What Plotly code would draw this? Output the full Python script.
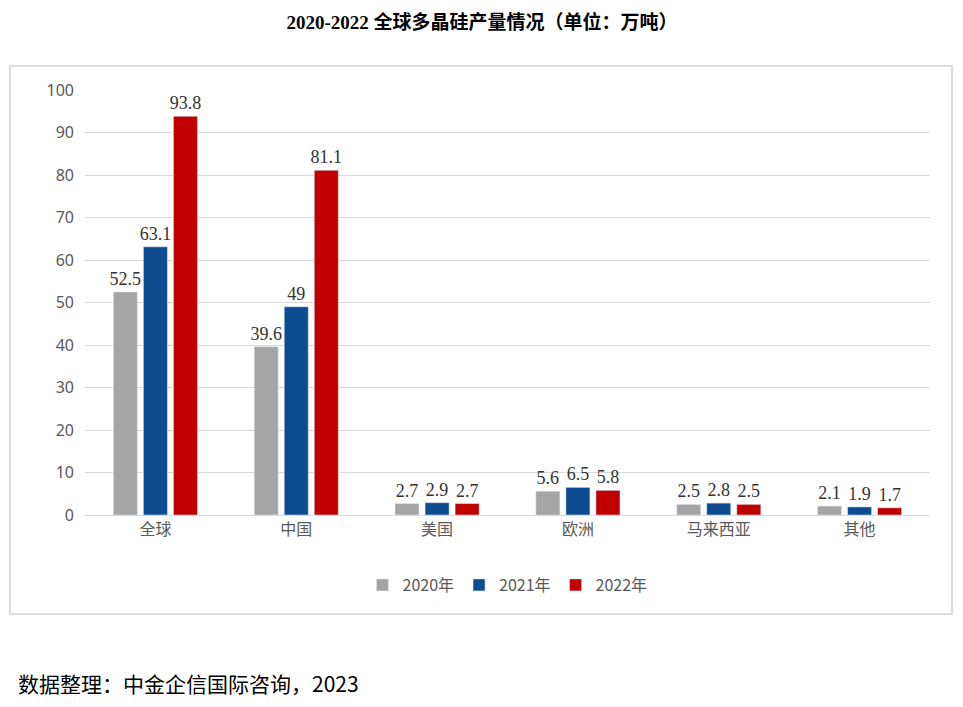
import plotly.graph_objects as go

categories = ["全球", "中国", "美国", "欧洲", "马来西亚", "其他"]
s2020 = [52.5, 39.6, 2.7, 5.6, 2.5, 2.1]
s2021 = [63.1, 49, 2.9, 6.5, 2.8, 1.9]
s2022 = [93.8, 81.1, 2.7, 5.8, 2.5, 1.7]
names = ["2020年", "2021年", "2022年"]
colors = ["#A5A5A5", "#0E4C92", "#C00000"]

fig = go.Figure()
for n, v, c in zip(names, [s2020, s2021, s2022], colors):
    fig.add_trace(go.Bar(x=categories, y=v, name=n, marker_color=c,
                         text=[f"{x:g}" for x in v], textposition="outside",
                         constraintext="none",
                         textfont=dict(family="Liberation Serif", size=18, color="#333"),
                         cliponaxis=False))

O = 8  # page body offset
FW, FH = 963, 707
PL, PR, PT, PB = 85, 930, 90, 515  # plot area in screen px
L, R, T, B = PL - O, FW + O - PR, PT - O, FH + O - PB
W, H = PR - PL, PB - PT
fig.update_layout(
    width=FW, height=FH, margin=dict(l=L, r=R, t=T, b=B),
    paper_bgcolor="white", plot_bgcolor="white",
    barmode="group", bargap=0.36, bargroupgap=0.2,
    title=dict(text="<b>2020-2022 全球多晶硅产量情况（单位：万吨）</b>", x=(482 - O) / FW, xanchor="center",
               y=1 - (22 - O) / FH, yanchor="middle",
               font=dict(family="Liberation Serif, Noto Sans CJK SC", size=19, color="black")),
    yaxis=dict(range=[0, 100], dtick=10, showgrid=True, gridcolor="#D9D9D9",
               tickfont=dict(family="Noto Sans", size=16, color="#595959"), zeroline=False,
               ticklabelstandoff=10),
    xaxis=dict(tickfont=dict(family="Noto Sans CJK SC", size=16, color="#595959"),
               showline=True, linecolor="#D9D9D9"),
    legend=dict(orientation="h", x=0.5, xanchor="center", y=(PB - 585) / H, yanchor="middle",
                font=dict(family="Noto Sans CJK SC", size=16, color="#595959"), traceorder="normal"),
    font=dict(family="Noto Sans CJK SC"),
)
fig.add_shape(type="rect", xref="paper", yref="paper",
              x0=(10 - PL) / W, x1=(952 - PL) / W, y0=(PB - 614) / H, y1=(PB - 66) / H,
              line=dict(color="#D0D0D0", width=1.5))
fig.add_annotation(text="数据整理：中金企信国际咨询，2023", xref="paper", yref="paper",
                   x=(16 - PL) / W, y=(PB - 683) / H, xanchor="left", yanchor="middle",
                   showarrow=False, font=dict(family="Noto Sans CJK SC", size=21, color="black"))
fig.write_html("out.html")
